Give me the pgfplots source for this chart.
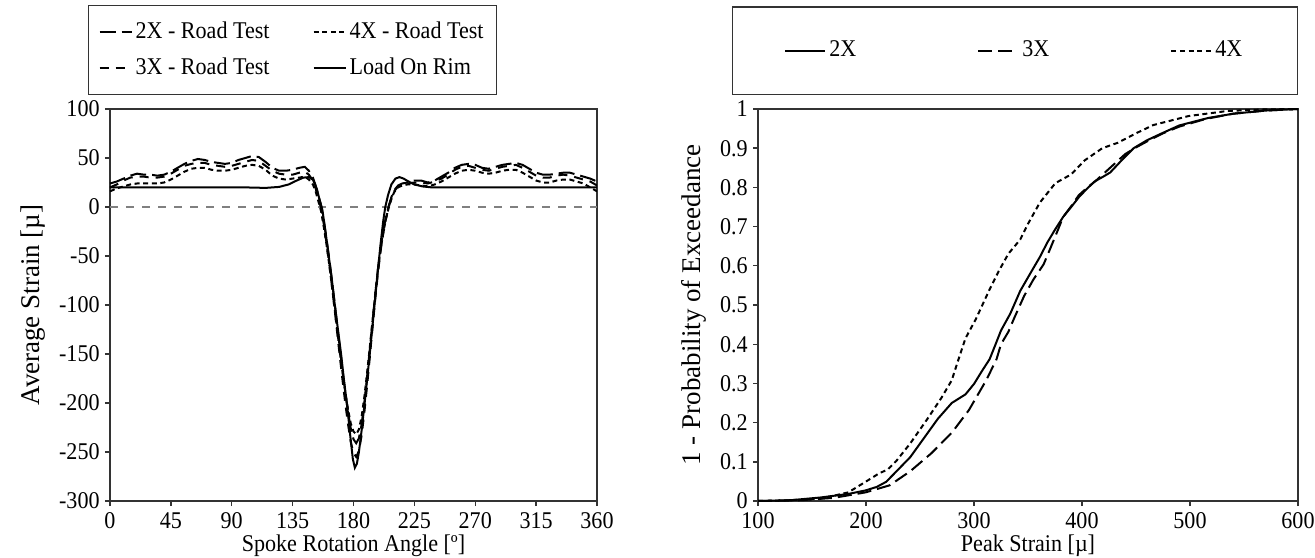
\documentclass[border=0pt]{standalone}
\usepackage{fontspec}
% the reference's Times face looks a little narrowed horizontally
\setmainfont{Liberation Serif}[FakeStretch=0.92]
\newfontfamily\rotfont{Liberation Serif}
\usepackage{pgfplots}
\pgfplotsset{compat=1.18}

% shared look of both panels (Excel-like)
\pgfplotsset{
  xlstyle/.style={
    scale only axis,
    height=196pt,
    axis line style={black!80, line width=0.7pt},
    tick style={black!80, line width=0.7pt},
    tick align=outside,
    tick pos=left,
    major tick length=2.5pt,
    /pgf/number format/assume math mode=true,
    xticklabel style={inner xsep=2pt, inner ysep=3pt},
    yticklabel style={inner xsep=2.5pt, inner ysep=0pt},
    xlabel style={at={(axis description cs:0.5,0)}, anchor=base,
      inner sep=0pt, yshift=-25pt},
    ylabel style={font=\rotfont\fontsize{13.5}{16}\selectfont},
    legend cell align=left,
  },
}

\begin{document}
\fontsize{12}{15}\selectfont
\begin{tikzpicture}

% ---------------- left: average strain vs angle ----------------
\begin{axis}[
  xlstyle,
  at={(0pt,0pt)}, anchor=south west,
  width=243.5pt,
  xmin=0, xmax=360, ymin=-300, ymax=100,
  xtick={0,45,...,360},
  ytick={-300,-250,...,100},
  xlabel={Spoke Rotation Angle [º]},
  ylabel={Average Strain [µ]},
  legend image code/.code={\draw[#1] (0pt,0pt) -- (16pt,0pt);},
  legend columns=2,
  legend style={at={(0,1)}, anchor=south west, xshift=-11pt, yshift=7pt,
    draw=black!80, line width=0.6pt,
    inner xsep=5pt, inner ysep=6.5pt, row sep=5.1pt,
    nodes={inner sep=1.5pt},
    /tikz/every even column/.append style={column sep=20pt}},
]
\addplot[forget plot, gray, dash pattern=on 4pt off 4pt, line width=0.7pt]
  coordinates {(0,0) (360,0)};

% 2X - Road Test
\addplot[black, line width=1pt, dash pattern=on 8pt off 3pt] table {
x y
0 24
5 26
10 29
15 32
20 34
25 33
30 33
35 32
40 33
45 36
50 40
55 44
60 47
65 49
70 48
75 46
80 45
85 44
90 45
95 48
100 50
105 52
110 51
115 46
120 40
125 37
130 37
135 38
140 40
144 41
147 37
150 30
152 22
154 12
156 2
158 -14
160 -32
162 -52
164 -74
166 -97
168 -121
170 -145
172 -168
174 -190
176 -210
178 -226
180 -237
182 -241
184 -236
186 -222
188 -200
190 -174
192 -146
194 -118
196 -90
198 -64
200 -42
202 -24
204 -10
206 1
208 10
210 17
213 22
216 24
220 25
225 27
230 27
235 25
240 27
245 31
250 35
255 40
260 43
265 44
270 43
275 40
280 39
285 41
290 43
295 44
300 45
305 43
310 39
315 35
320 33
325 33
330 34
335 35
340 35
345 33
350 31
355 29
360 26
};
\addlegendentry{2X - Road Test}

% 4X - Road Test
\addplot[black, line width=1pt, dash pattern=on 2.5pt off 1.8pt] table {
x y
0 16
5 19
10 21
15 23
20 24
25 24
30 24
35 24
40 25
45 28
50 32
55 36
60 39
65 40
70 40
75 38
80 37
85 37
90 38
95 40
100 42
105 43
110 42
115 38
120 32
125 29
130 28
135 29
140 30
144 31
147 28
150 23
152 16
154 6
156 -4
158 -20
160 -38
162 -58
164 -80
166 -103
168 -126
170 -149
172 -170
174 -190
176 -207
178 -221
180 -229
182 -232
184 -227
186 -214
188 -194
190 -170
192 -144
194 -117
196 -90
198 -65
200 -44
202 -26
204 -12
206 -1
208 8
210 15
213 20
216 22
220 23
225 23
230 22
235 21
240 23
245 26
250 30
255 34
260 37
265 38
270 37
275 35
280 34
285 35
290 37
295 38
300 38
305 35
310 31
315 27
320 25
325 25
330 27
335 28
340 28
345 26
350 24
355 20
360 16
};
\addlegendentry{4X - Road Test}

% 3X - Road Test
\addplot[black, line width=1pt, dash pattern=on 4.5pt off 3.5pt] table {
x y
0 20
5 23
10 27
15 30
20 31
25 31
30 30
35 30
40 31
45 34
50 38
55 42
60 44
65 45
70 45
75 43
80 42
85 41
90 42
95 44
100 46
105 48
110 47
115 42
120 37
125 34
130 33
135 33
140 35
144 36
147 33
150 27
152 19
154 9
156 -1
158 -17
160 -36
162 -57
164 -80
166 -104
168 -129
170 -154
172 -178
174 -201
176 -222
178 -240
180 -251
182 -255
184 -249
186 -233
188 -210
190 -183
192 -154
194 -124
196 -95
198 -68
200 -45
202 -27
204 -12
206 0
208 9
210 16
213 21
216 23
220 24
225 25
230 25
235 24
240 26
245 29
250 33
255 38
260 41
265 42
270 40
275 38
280 37
285 39
290 41
295 42
300 43
305 40
310 36
315 32
320 30
325 30
330 32
335 33
340 32
345 30
350 28
355 26
360 22
};
\addlegendentry{3X - Road Test}

% Load On Rim
\addplot[black, line width=1pt] table {
x y
0 20
20 20
40 20
60 20
80 20
100 20
115 19.5
125 20.5
132 23
138 27
143 30
147 30.5
150 28
153 18
155 7
157 -3
159 -22
161.5 -48
164 -74
166 -98
168.5 -125
171 -152
173 -177
175.5 -205
177.5 -232
179.5 -257
181 -266
182.5 -262
184 -250
186 -228
188 -203
190 -177
192 -150
194 -122
196 -93
198 -65
200 -38
202 -14
203.5 0
205.5 12
208 23
211 29
214 30.5
217 29
220 26.5
225 23
231 21
238 20
260 20
290 20
320 20
360 20
};
\addlegendentry{Load On Rim}
\end{axis}

% ---------------- right: CDF of peak strain ----------------
\begin{axis}[
  xlstyle,
  at={(324pt,0pt)}, anchor=south west,
  width=270pt,
  xmin=100, xmax=600, ymin=0, ymax=1,
  xtick={100,200,...,600},
  ytick={0,0.1,...,1},
  yticklabels={0,0.1,0.2,0.3,0.4,0.5,0.6,0.7,0.8,0.9,1},
  xlabel={Peak Strain [µ]},
  ylabel={1 - Probability of Exceedance},
  legend image code/.code={\draw[#1] (0pt,0pt) -- (20pt,0pt);},
  legend columns=3,
  legend style={at={(1,1)}, anchor=south east, yshift=7pt,
    draw=black!80, line width=0.6pt,
    inner xsep=26pt, inner ysep=15.5pt,
    nodes={inner sep=1.5pt},
    /tikz/every even column/.append style={column sep=59pt}},
]
% 2X
\addplot[black, line width=1pt] table {
x y
100 0
130 0.002
158 0.009
183.6 0.018
199.6 0.027
210 0.036
218.7 0.049
228.3 0.076
241 0.112
253.8 0.161
266.6 0.21
279.4 0.25
292.1 0.272
300.1 0.299
307 0.33
314.5 0.362
320 0.40
325 0.435
333.6 0.478
342.8 0.536
352 0.58
360.9 0.622
368 0.66
375.4 0.694
382.6 0.725
390 0.75
397.1 0.775
404 0.795
411.6 0.815
420 0.828
426.1 0.838
437 0.87
447.8 0.9
460 0.92
473.2 0.937
490 0.958
516.7 0.977
540 0.988
570 0.996
600 1
};
\addlegendentry{2X}

% 3X
\addplot[black, line width=1pt, dash pattern=on 7pt off 3pt] table {
x y
100 0
140 0.002
170 0.008
199.6 0.022
221.9 0.04
241 0.076
260.2 0.121
279.4 0.174
295.3 0.232
311.3 0.308
320.9 0.362
325 0.40
331.9 0.432
336.8 0.464
346.4 0.523
355 0.565
364.5 0.604
370 0.64
375.4 0.676
382.6 0.725
390 0.752
397 0.78
405 0.80
412 0.815
420 0.835
430 0.86
440 0.885
450 0.902
462 0.92
475 0.938
490 0.955
515 0.975
540 0.988
570 0.996
600 1
};
\addlegendentry{3X}

% 4X
\addplot[black, line width=1pt, dash pattern=on 2.5pt off 1.8pt] table {
x y
100 0
130 0.002
160 0.007
183.6 0.022
199.6 0.049
212.4 0.071
220 0.08
228.3 0.103
241 0.147
257 0.21
269.8 0.263
279.4 0.308
285 0.356
292.1 0.415
301.7 0.464
313.8 0.536
322.8 0.586
331.9 0.631
342.8 0.667
350 0.707
360.9 0.761
375.4 0.811
389.9 0.833
402.5 0.869
418.8 0.9
433.3 0.914
450 0.938
466 0.959
498.6 0.982
534.8 0.995
570 0.999
600 1
};
\addlegendentry{4X}
\end{axis}

% fix the page to the reference's frame
\pgfresetboundingbox
\path[use as bounding box] (-55pt,-28pt) rectangle (602.5pt,250.5pt);
\end{tikzpicture}
\end{document}
